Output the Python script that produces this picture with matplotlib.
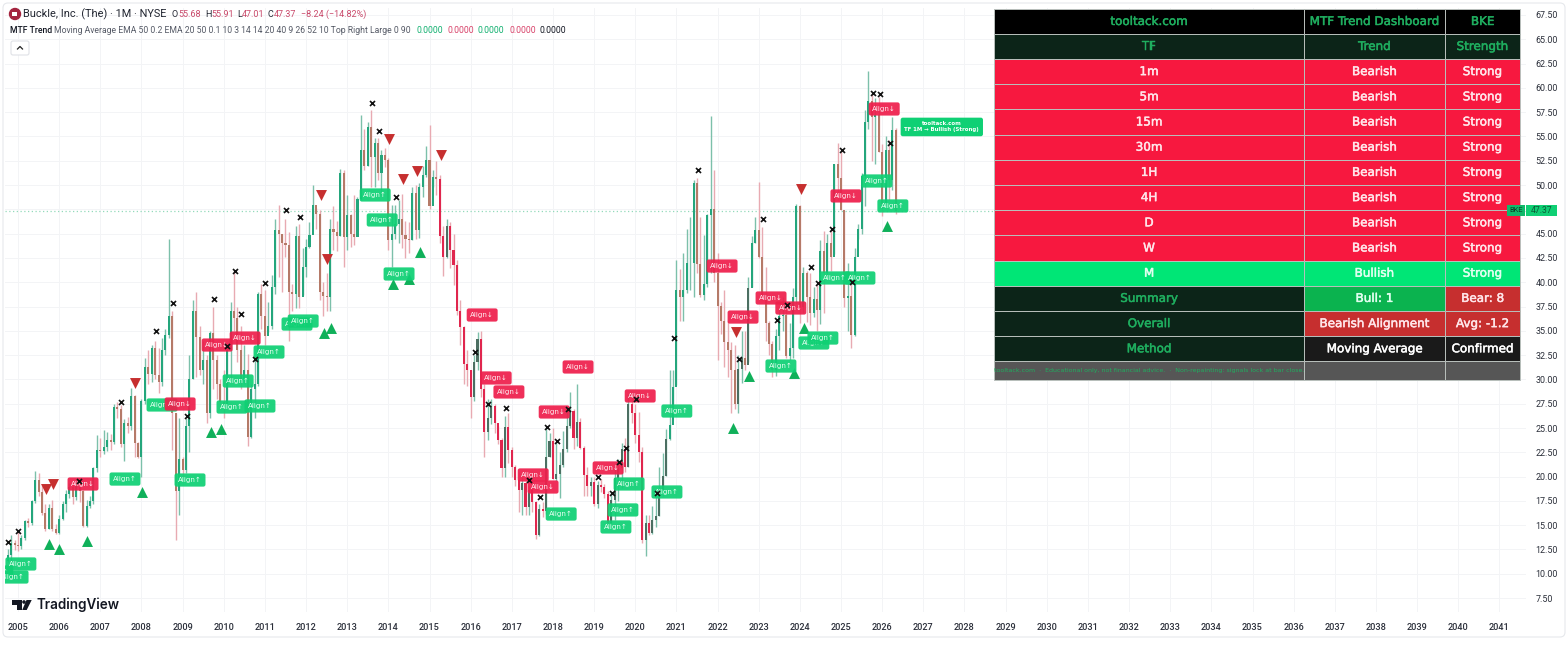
import numpy as np
import matplotlib
matplotlib.use("Agg")
import matplotlib.pyplot as plt
import matplotlib.patheffects as pe
from matplotlib.patches import FancyBboxPatch, Rectangle, Polygon, Circle

# monthly bars, Oct 2004 to May 2026 (open = previous close)
first_open = 11.3
closes = [11.9, 13.2, 13.0,
    12.9, 13.7, 15.4, 15.2, 17.5, 19.7, 18.4, 16.3, 14.6, 16.8, 14.6, 14.2,
    15.6, 17.2, 18.2, 18.9, 17.9, 19.0, 18.5, 14.9, 17.0, 17.5, 20.9, 22.7,
    22.6, 23.0, 23.8, 23.6, 27.2, 27.0, 23.4, 25.5, 25.2, 28.3, 23.5, 22.0,
    27.8, 31.3, 30.6, 33.2, 30.5, 29.7, 33.0, 34.6, 36.5, 26.5, 18.5, 21.8,
    20.7, 25.2, 30.0, 37.0, 34.4, 31.0, 32.0, 26.5, 34.8, 32.0, 29.5, 27.7,
    27.5, 33.0, 37.0, 36.3, 33.0, 30.0, 31.0, 24.1, 29.0, 29.5, 38.8, 36.5,
    34.5, 35.5, 39.5, 45.4, 45.0, 44.0, 43.8, 39.0, 38.8, 44.8, 38.5, 41.6,
    43.6, 44.9, 48.0, 47.0, 39.0, 38.6, 38.5, 45.5, 45.2, 44.8, 51.2, 44.7,
    46.9, 45.0, 44.7, 48.6, 53.6, 52.0, 56.0, 52.9, 54.3, 51.2, 53.1, 52.6,
    44.3, 45.0, 46.0, 46.5, 44.9, 44.4, 44.3, 49.2, 45.4, 49.8, 51.0, 52.6,
    47.8, 50.8, 50.6, 44.8, 42.6, 45.8, 43.3, 41.8, 37.0, 35.4, 31.6, 31.0,
    28.2, 31.8, 34.2, 29.0, 24.6, 26.0, 27.3, 25.5, 23.8, 20.9, 25.1, 22.7,
    21.0, 19.7, 18.6, 19.3, 16.9, 18.6, 17.4, 14.0, 16.7, 16.5, 22.0, 23.7,
    19.8, 20.3, 21.2, 22.8, 25.2, 26.8, 24.0, 25.6, 22.9, 20.2, 19.0, 19.4,
    17.2, 19.1, 18.9, 18.2, 15.2, 17.6, 19.9, 20.9, 22.8, 21.0, 27.5, 26.5,
    24.3, 22.5, 13.5, 15.2, 14.2, 15.5, 15.9, 18.6, 20.1, 23.9, 25.3, 29.2,
    39.2, 38.5, 39.2, 42.0, 42.0, 50.2, 41.9, 38.7, 39.8, 46.9, 47.5, 41.0,
    37.6, 36.0, 33.9, 33.0, 31.0, 27.5, 31.1, 32.2, 31.5, 39.4, 44.0, 45.4,
    42.6, 38.5, 35.8, 33.6, 31.0, 34.5, 36.5, 36.6, 32.4, 33.2, 38.5, 47.8,
    37.5, 41.0, 38.5, 36.8, 38.3, 37.1, 43.2, 41.0, 44.0, 42.6, 52.2, 50.7,
    47.4, 38.4, 38.6, 34.6, 42.6, 45.5, 50.9, 56.5, 58.6, 57.0, 57.2, 53.4,
    48.1, 53.6, 50.5, 55.68, 47.37]
highs = [12.6, 14.0, 13.5,
    14.4, 14.0, 15.5, 15.7, 17.6, 20.6, 20.4, 19.2, 17.2, 17.2, 17.6, 15.1,
    16.0, 17.5, 18.6, 19.3, 19.2, 19.5, 19.5, 18.6, 17.6, 18.0, 21.0, 24.3,
    24.0, 24.8, 24.6, 24.4, 27.5, 27.7, 27.4, 25.9, 26.1, 29.1, 28.4, 23.6,
    28.0, 32.2, 33.0, 33.5, 34.0, 33.2, 34.3, 35.2, 44.5, 37.0, 26.5, 26.0,
    22.0, 26.0, 32.5, 38.2, 39.0, 35.5, 34.0, 32.5, 35.0, 37.5, 32.5, 30.0,
    31.0, 33.5, 38.0, 41.2, 37.5, 35.5, 33.5, 32.6, 29.5, 32.0, 39.0, 39.8,
    39.2, 38.0, 40.7, 46.5, 47.9, 45.0, 46.5, 45.2, 39.8, 45.8, 46.0, 43.5,
    44.5, 46.2, 50.0, 47.6, 47.4, 40.0, 41.0, 46.5, 47.8, 46.3, 51.7, 51.5,
    49.0, 47.0, 49.0, 48.8, 57.2, 55.8, 56.5, 57.7, 54.8, 54.8, 53.6, 53.8,
    52.8, 48.0, 48.0, 48.5, 49.1, 46.3, 46.2, 49.8, 50.0, 50.2, 52.0, 54.0,
    56.2, 51.5, 52.5, 51.0, 45.8, 46.5, 46.2, 45.0, 42.3, 38.2, 35.5, 33.0,
    31.0, 32.5, 34.9, 35.0, 29.5, 28.0, 28.0, 27.5, 25.2, 24.0, 26.2, 26.5,
    23.0, 21.2, 20.5, 20.0, 19.5, 19.0, 19.0, 17.5, 17.2, 17.4, 25.1, 24.5,
    25.0, 23.6, 22.5, 24.7, 27.0, 28.7, 27.0, 29.5, 26.0, 23.2, 21.0, 20.0,
    20.0, 19.6, 19.8, 19.2, 18.5, 18.4, 21.0, 21.8, 23.5, 24.0, 28.5, 28.5,
    27.5, 26.7, 23.0, 16.0, 16.0, 17.0, 18.5, 21.0, 22.4, 24.9, 31.0, 31.0,
    42.3, 41.4, 43.0, 45.5, 46.7, 50.5, 50.7, 46.7, 44.9, 47.0, 57.1, 51.5,
    43.0, 38.0, 39.2, 36.0, 33.9, 33.5, 32.5, 35.0, 35.0, 40.5, 44.8, 46.7,
    50.3, 45.7, 41.6, 36.0, 34.0, 35.2, 37.5, 38.5, 37.5, 35.8, 39.4, 48.1,
    48.0, 41.6, 41.2, 41.0, 39.5, 39.7, 44.3, 45.3, 45.0, 45.5, 52.2, 54.3,
    53.6, 47.3, 42.0, 40.5, 43.5, 46.0, 51.2, 57.7, 61.7, 59.5, 59.0, 59.1,
    54.2, 55.1, 54.6, 57.0, 55.91]
lows = [11.2, 11.2, 12.4,
    12.3, 12.5, 13.5, 14.8, 15.0, 17.3, 18.0, 16.0, 14.4, 14.6, 14.4, 14.1,
    14.1, 15.5, 16.4, 17.8, 17.2, 17.6, 17.4, 14.8, 14.8, 16.8, 17.2, 20.5,
    22.0, 22.3, 22.6, 22.7, 23.4, 26.0, 23.0, 21.6, 24.5, 24.8, 22.0, 21.9,
    20.0, 27.5, 29.5, 29.7, 30.0, 28.6, 29.3, 32.5, 34.3, 22.7, 13.5, 16.0,
    20.0, 20.4, 22.5, 30.0, 30.3, 30.5, 29.5, 25.5, 26.0, 29.0, 28.0, 27.0,
    26.0, 27.5, 29.7, 35.0, 31.8, 29.0, 29.5, 23.1, 24.0, 26.0, 29.3, 35.2,
    33.5, 34.9, 35.2, 38.8, 40.5, 39.0, 42.6, 34.0, 37.0, 37.3, 37.3, 38.7,
    40.5, 43.5, 46.5, 45.5, 38.2, 36.5, 37.0, 37.0, 43.3, 43.2, 44.8, 41.6,
    43.3, 43.6, 43.8, 44.8, 48.5, 51.5, 52.0, 49.8, 49.8, 50.5, 49.0, 51.9,
    43.3, 41.6, 44.5, 44.0, 43.5, 42.5, 43.0, 44.3, 44.5, 44.6, 48.8, 50.8,
    47.5, 49.8, 49.0, 44.0, 40.6, 42.5, 41.5, 39.7, 36.6, 33.5, 29.5, 29.3,
    26.0, 27.8, 31.0, 28.2, 22.0, 23.8, 25.4, 24.5, 23.4, 20.0, 20.0, 21.4,
    20.0, 19.0, 16.4, 16.0, 16.0, 16.0, 16.4, 13.6, 13.9, 15.8, 16.2, 22.0,
    19.8, 19.5, 17.8, 21.0, 22.5, 25.0, 22.8, 23.2, 22.8, 18.0, 18.0, 18.0,
    17.0, 16.8, 18.4, 17.8, 14.8, 15.0, 15.5, 17.5, 18.8, 20.5, 21.0, 25.5,
    23.5, 21.5, 13.2, 11.8, 14.0, 14.1, 14.8, 15.9, 18.0, 20.1, 23.8, 27.3,
    29.4, 36.0, 36.0, 38.9, 39.2, 38.5, 41.0, 38.5, 38.2, 39.5, 41.0, 40.0,
    32.0, 34.7, 31.3, 30.3, 26.5, 27.0, 26.5, 29.6, 31.0, 31.8, 39.5, 44.0,
    42.5, 38.2, 34.0, 32.5, 30.3, 30.4, 33.0, 35.0, 32.2, 32.0, 32.2, 37.8,
    35.8, 36.8, 35.9, 35.6, 36.4, 35.0, 35.7, 36.8, 40.5, 41.2, 42.9, 48.5,
    47.4, 37.5, 35.0, 33.2, 34.5, 44.5, 45.0, 47.8, 55.8, 52.5, 52.2, 53.4,
    46.8, 48.0, 48.5, 49.5, 47.01]

# signal marks: decimal year, price
cross_x = [2004.76, 2005.00, 2006.48, 2007.50, 2008.35, 2008.77, 2009.11, 2009.76, 2010.08, 2010.27, 2010.42, 2010.76,
           2011.00, 2011.51, 2011.85, 2013.60, 2013.77, 2014.19, 2016.11, 2016.42, 2016.86, 2017.42, 2017.69, 2017.86,
           2018.10, 2018.37, 2019.09, 2019.44, 2019.60, 2019.78, 2020.02, 2020.53, 2020.94, 2021.52, 2022.52, 2023.10,
           2023.44, 2023.69, 2024.27, 2024.44, 2024.78, 2025.03, 2025.27, 2025.78, 2025.95, 2026.19]
cross_y = [13.27, 14.40, 19.55, 27.68, 34.98, 37.86, 26.24, 38.28, 33.44, 41.16, 36.73, 32.10,
           39.92, 47.43, 46.71, 58.44, 55.56, 48.77, 32.82, 27.47, 27.06, 19.65, 17.90, 25.10,
           23.66, 26.96, 19.96, 18.31, 21.50, 22.94, 27.99, 18.31, 34.26, 51.55, 32.10, 46.51,
           36.12, 37.66, 41.57, 39.92, 45.48, 53.61, 40.03, 59.47, 59.37, 54.33]
up_x = [2005.75, 2006.00, 2006.68, 2008.01, 2009.69, 2009.93, 2012.44, 2012.61, 2014.11, 2014.50, 2014.77,
        2022.38, 2022.76, 2023.86, 2024.10, 2026.12]
up_y = [13.07, 12.55, 13.38, 18.42, 24.59, 24.90, 34.78, 35.29, 39.82, 40.33, 43.11,
        25.00, 30.35, 30.66, 35.29, 45.79]
down_x = [2005.68, 2005.85, 2007.84, 2012.36, 2012.51, 2014.02, 2014.36, 2014.70, 2015.28, 2022.45, 2024.03]
down_y = [18.72, 19.24, 29.63, 48.98, 42.39, 54.74, 50.62, 51.45, 53.09, 34.88, 49.60]
bull_x = [2004.51, 2004.88, 2005.07, 2007.60, 2009.18, 2008.50, 2010.20, 2010.88, 2010.35, 2011.10, 2011.78, 2011.93,
          2013.68, 2013.85, 2014.26, 2018.20, 2019.85, 2019.70, 2019.53, 2020.77, 2021.01, 2023.54, 2024.34, 2024.56,
          2024.85, 2025.46, 2025.87, 2026.26]
bull_y = [10.18, 9.67, 11.01, 19.75, 19.65, 27.37, 27.16, 27.27, 29.84, 32.82, 35.70, 36.01,
          48.98, 46.41, 40.85, 16.15, 19.24, 16.57, 14.82, 18.42, 26.75, 31.38, 33.75, 34.26,
          40.44, 40.44, 50.42, 47.85]
bear_x = [2006.58, 2008.94, 2009.84, 2010.52, 2016.28, 2016.62, 2016.93, 2018.03, 2018.61, 2017.52, 2017.76, 2019.34,
          2020.12, 2022.11, 2022.62, 2023.30, 2023.78, 2025.12, 2026.05]
bear_y = [19.24, 27.47, 33.54, 34.26, 36.63, 30.15, 28.71, 26.65, 31.28, 20.17, 18.93, 20.89,
          28.30, 41.67, 36.42, 38.38, 37.35, 48.88, 57.83]

year_ticks = list(range(2005, 2042))
price_ticks = [7.5 + 2.5 * k for k in range(25)]
last_price = 47.37

table_rows = [
    ["tooltack.com", "MTF Trend Dashboard", "BKE"],
    ["TF", "Trend", "Strength"],
    ["1m", "Bearish", "Strong"],
    ["5m", "Bearish", "Strong"],
    ["15m", "Bearish", "Strong"],
    ["30m", "Bearish", "Strong"],
    ["1H", "Bearish", "Strong"],
    ["4H", "Bearish", "Strong"],
    ["D", "Bearish", "Strong"],
    ["W", "Bearish", "Strong"],
    ["M", "Bullish", "Strong"],
    ["Summary", "Bull: 1", "Bear: 8"],
    ["Overall", "Bearish Alignment", "Avg: -1.2"],
    ["Method", "Moving Average", "Confirmed"],
    ["tooltack.com  \u00b7  Educational only, not financial advice.  \u00b7  Non-repainting: signals lock at bar close.", "", ""],
]

GREEN = "#24a67c"
GREEN_WICK = "#7cc0aa"
BROWN = "#b57a68"
PINK_WICK = "#e8aab2"
CRIMSON = "#e0264e"
DARK = "#4c6f62"
LABEL_GREEN = "#0fd074"
LABEL_RED = "#ee1f4c"
TAB_RED = "#f7183f"
TAB_GREEN = "#00e676"
TAB_DARK = "#0c2418"
TAB_TEXT = "#1fae5f"
RED2 = "#c62f2f"
GREEN2 = "#0bb34f"

W, H = 1568, 645
fig = plt.figure(figsize=(W / 100, H / 100), dpi=100, facecolor="white")

# pixel box of the price pane
left, right, top, bottom = 5, 1526, 8, 612
ax = fig.add_axes([left / W, 1 - bottom / H, (right - left) / W, (bottom - top) / H])
ax.set_xlim(2005 + (left - 18) / 41.15, 2005 + (right - 18) / 41.15)
ax.set_ylim(67.5 - (bottom - 15) * 0.1029, 67.5 - (top - 15) * 0.1029)
for s in ax.spines.values():
    s.set_visible(False)
ax.set_xticks(year_ticks)
ax.set_xticklabels(year_ticks, fontsize=6.6, color="#2a2e39", fontfamily="Roboto", fontweight="medium")
ax.set_yticks(price_ticks)
# the 47.50 label sits under the last price tag
ax.set_yticklabels(["" if p == 47.5 else f"{p:.2f}" for p in price_ticks], fontsize=6.4, color="#2a2e39", fontfamily="Roboto")
ax.yaxis.tick_right()
ax.tick_params(axis="both", length=0)
ax.tick_params(axis="x", pad=8)
ax.tick_params(axis="y", pad=7)
ax.grid(True, color="#f3f4f6", lw=0.7)
ax.set_axisbelow(True)

# candles
n = len(closes)
years = 2004.75 + np.arange(n) / 12
closes_a = np.array(closes)
opens = np.r_[first_open, closes_a[:-1]]
is_up = closes_a >= opens
crimson_era = (years > 2015.2) & (years < 2020.5)
dark_era = ((years > 2015.3) & (years < 2020.8)) | ((years > 2022.4) & (years < 2022.8))
body_cols = []
wick_cols = []
for i in range(n):
    if is_up[i]:
        body_cols.append(DARK if dark_era[i] else GREEN)
        wick_cols.append(GREEN_WICK)
    else:
        body_cols.append(CRIMSON if crimson_era[i] else BROWN)
        wick_cols.append(PINK_WICK)
ax.axhline(last_price, color="#93dabb", lw=0.9, ls=(0, (1, 2)), zorder=1)
ax.vlines(years, lows, highs, colors=wick_cols, lw=1.0, zorder=2)
ax.bar(years, np.abs(closes_a - opens), bottom=np.minimum(closes_a, opens), width=0.05, color=body_cols, zorder=3)

# signals
ax.scatter(up_x, up_y, marker="^", s=62, color="#10b05a", lw=0, zorder=5)
ax.scatter(down_x, down_y, marker="v", s=62, color=RED2, lw=0, zorder=5)
for x, y in zip(bull_x, bull_y):
    ax.text(x, y, "Align\u2191", fontsize=5.1, color="#eafff4", ha="center", va="center", zorder=6, clip_on=True,
            bbox=dict(boxstyle="round,pad=0.5,rounding_size=0.3", fc=LABEL_GREEN, ec="none", alpha=0.93))
for x, y in zip(bear_x, bear_y):
    ax.text(x, y, "Align\u2193", fontsize=5.1, color="#fff0f3", ha="center", va="center", zorder=6, clip_on=True,
            bbox=dict(boxstyle="round,pad=0.5,rounding_size=0.3", fc=LABEL_RED, ec="none", alpha=0.93))
ax.scatter(cross_x, cross_y, marker="x", s=13, color="#111111", lw=1.2, zorder=7)
ax.text(2027.45, 55.98, "tooltack.com\nTF 1M \u2192 Bullish (Strong)", fontsize=3.9, color="white", fontweight="bold",
        ha="center", va="center", zorder=8, linespacing=1.25,
        bbox=dict(boxstyle="round,pad=0.7,rounding_size=0.4", fc=LABEL_GREEN, ec="none"))

# overlay in pixel coordinates for legend, table and logo
ov = fig.add_axes([0, 0, 1, 1], zorder=10)
ov.set_xlim(0, W)
ov.set_ylim(H, 0)
ov.axis("off")
ov.patch.set_alpha(0)
ov.add_patch(FancyBboxPatch((3, 3), W - 6, 634, boxstyle="round,pad=0,rounding_size=5", fc="none", ec="#e6e8ec", lw=0.8))

def put(x, y, s, size=6.4, color="#131722", **kw):
    ov.text(x, y, s, fontsize=size, color=color, va="center", fontfamily="Roboto", **kw)

ov.add_patch(Circle((15, 14), 5.5, color="#a4243f"))
ov.add_patch(Rectangle((12.5, 12), 5, 4, fc="white", ec="none"))
put(23, 14, "Buckle, Inc. (The) \u00b7 1M \u00b7 NYSE", size=7.9, color="#222631")
OHLC = "#c9496a"
for x, s, c in [(172, "O", "#222631"), (178, "55.68", OHLC), (205, "H", "#222631"), (211, "55.91", OHLC),
                (237, "L", "#222631"), (242, "47.01", OHLC), (268, "C", "#222631"), (274, "47.37", OHLC),
                (301, "\u22128.24 (\u221214.82%)", OHLC)]:
    put(x, 14.5, s, size=6.5, color=c)
put(10, 30.5, "MTF Trend", size=6.2, color="#131722", fontweight="medium")
put(54, 30.5, "Moving Average EMA 50 0.2 EMA 20 50 0.1 10 3 14 14 20 40 9 26 52 10 Top Right Large 0 90", size=6.2, color="#555a66")
for x, c in [(417, "#12b070"), (448, "#d8436a"), (478, "#12b070"), (510, "#d8436a"), (540, "#131722")]:
    put(x, 30.5, "0.0000", size=6.2, color=c)
ov.add_patch(FancyBboxPatch((11, 41), 18, 14, boxstyle="round,pad=0,rounding_size=2", fc="white", ec="#dfe1e6", lw=0.8))
ov.plot([17.5, 20, 22.5], [49, 46.5, 49], color="#222222", lw=0.9)

# TradingView logo
ov.add_patch(Polygon([(12.3, 600), (21.7, 600), (21.7, 610), (16.7, 610), (16.7, 604.5), (12.3, 604.5)], fc="#131722", lw=0))
ov.add_patch(Circle((24, 602), 1.8, fc="#131722", lw=0))
ov.add_patch(Polygon([(26.5, 600), (31.7, 600), (26.7, 610), (22.2, 610)], fc="#131722", lw=0))
ov.text(36.5, 605, "TradingView", fontsize=9.7, color="#131722", va="center", fontfamily="Inter", fontweight="semibold")

# last price tag
ov.add_patch(Rectangle((1507, 205), 18.5, 11, fc="#10b96a", ec="none"))
ov.add_patch(Rectangle((1526, 205), 31, 11, fc="#0fd074", ec="none"))
ov.text(1516, 210.7, "BKE", fontsize=5.4, color="#0c3d26", ha="center", va="center", fontfamily="Roboto")
ov.text(1541.5, 210.7, f"{last_price:.2f}", fontsize=6.2, color="#0c5a36", ha="center", va="center", fontfamily="Roboto")

# dashboard table
col_px = [310, 141, 75]
row_px = [25, 25, 25.2, 25.2, 25.2, 25.2, 25.2, 25.2, 25.2, 25.2, 25.2, 25.2, 25.2, 25.2, 18.6]
tab_l, tab_t = 994, 9
tab_w, tab_h = sum(col_px), sum(row_px)
fills = [["#000000"] * 3, [TAB_DARK] * 3] + [[TAB_RED] * 3 for _ in range(8)] + [[TAB_GREEN] * 3,
         [TAB_DARK, GREEN2, RED2], [TAB_DARK, RED2, RED2], [TAB_DARK, "#1a1a1a", "#1a1a1a"], ["#565656"] * 3]
text_cols = [[TAB_TEXT] * 3, [TAB_TEXT] * 3] + [["#ffe6ea"] * 3 for _ in range(8)] + [["#e2fff0"] * 3,
             [TAB_TEXT, "#e2fff0", "#ffe6ea"], [TAB_TEXT, "#ffe6ea", "#ffe6ea"], [TAB_TEXT, "white", "white"], [TAB_TEXT] * 3]
tab = ov.table(cellText=table_rows, cellColours=fills, colWidths=[c / tab_w for c in col_px], cellLoc="center",
               bbox=[tab_l / W, 1 - (tab_t + tab_h) / H, tab_w / W, tab_h / H])
tab.auto_set_font_size(False)
for (r, c), cell in tab.get_celld().items():
    cell.set_height(row_px[r])
    cell.set_edgecolor("#b9c0bc")
    cell.set_linewidth(0.7)
    cell.PAD = 0.002
    cell.set_text_props(color=text_cols[r][c], fontsize=8.6, fontfamily="DejaVu Sans",
                        path_effects=[pe.withStroke(linewidth=0.35, foreground=text_cols[r][c])])
foot = tab[(14, 0)]
foot._loc = "left"
foot.PAD = 0.01
foot.set_text_props(fontsize=4.5, path_effects=[])

fig.savefig("out.png", dpi=100)
